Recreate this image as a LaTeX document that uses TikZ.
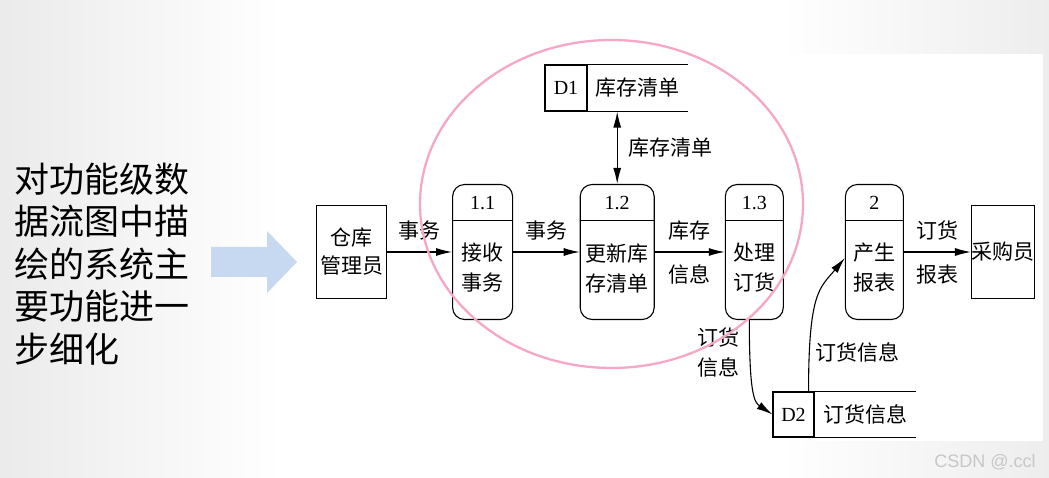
\documentclass[tikz,border=0pt]{standalone}
\usepackage{fontspec}
\setmainfont{Liberation Serif}
\newfontfamily\cjk{Noto Sans CJK SC}
\newfontfamily\wmfont{Liberation Sans}
\usetikzlibrary{arrows.meta, positioning}

\definecolor{ringpink}{RGB}{246,166,198}
\definecolor{slideblue}{RGB}{198,217,241}

\begin{document}
\begin{tikzpicture}[x=1pt, y=1pt,
  font=\fontsize{20}{24}\selectfont,
  % Process = rounded box, number bar on top
  process/.style={rectangle, draw=black, line width=1.1pt, rounded corners=12pt, minimum height=135pt, inner sep=0pt},
  procnum/.style={inner sep=0pt, font=\fontsize{20}{24}\selectfont},
  proctext/.style={inner sep=0pt, align=center, font=\cjk\fontsize{21}{30}\selectfont},
  % External entity = plain rectangle
  entity/.style={rectangle, draw=black, line width=1.1pt, minimum height=93pt, inner sep=0pt, align=center, font=\cjk\fontsize{21}{28}\selectfont},
  % Data store = id cell + open-ended name cell
  storeid/.style={rectangle, draw=black, line width=1.1pt, minimum height=46pt, inner sep=0pt, font=\fontsize{20}{24}\selectfont},
  storename/.style={rectangle, minimum height=46pt, inner sep=0pt, font=\cjk\fontsize{21}{24}\selectfont},
  lbl/.style={inner sep=0pt, align=center, font=\cjk\fontsize{21}{30}\selectfont},
  arrow/.style={line width=1.1pt, -{Latex[length=16pt, width=8pt]}},
  dblarrow/.style={line width=1.1pt, {Latex[length=16pt, width=8pt]}-{Latex[length=16pt, width=8pt]}},
  divider/.style={line width=0.9pt}
]

% ---- Slide background ----
\fill[white] (0,0) rectangle (1049,478);
\shade[left color=black!8, right color=white] (0,0) rectangle (280,478);
\shade[left color=white, right color=black!7] (780,0) rectangle (1049,478);
\fill[white] (305,37) rectangle (1043,424);
\useasboundingbox (0,0) rectangle (1049,478);

% ---- Slide text and big arrow ----
\node[anchor=west, align=left, inner sep=0pt, font=\cjk\fontsize{35}{42.5}\selectfont] (intro) at (14,214)
  {对功能级数\\据流图中描\\绘的系统主\\要功能进一\\步细化};
\fill[slideblue] (211,201) -- (267,201) -- (267,185) -- (297,216) -- (267,247) -- (267,231) -- (211,231) -- cycle;

% ---- External entities ----
\node[entity, minimum width=70pt] (mgr) at (351.5,226) {仓库\\管理员};

% ---- Processes ----
\node[process, minimum width=60pt, right=65pt of mgr] (p11) {};
\node[process, minimum width=74pt, right=66.5pt of p11] (p12) {};
\node[process, minimum width=58pt, right=70pt of p12] (p13) {};
\node[process, minimum width=58pt, right=61pt of p13] (p2) {};
\node[entity, minimum width=61pt, right=67pt of p2] (buyer) {采购员};

\draw[divider] ([yshift=-37pt]p11.north west) -- ([yshift=-37pt]p11.north east);
\draw[divider] ([yshift=-37pt]p12.north west) -- ([yshift=-37pt]p12.north east);
\draw[divider] ([yshift=-37pt]p13.north west) -- ([yshift=-37pt]p13.north east);
\draw[divider] ([yshift=-37pt]p2.north west) -- ([yshift=-37pt]p2.north east);

\node[procnum] (p11num) at ([yshift=-19pt]p11.north) {1.1};
\node[procnum] (p12num) at ([yshift=-19pt]p12.north) {1.2};
\node[procnum] (p13num) at ([yshift=-19pt]p13.north) {1.3};
\node[procnum] (p2num) at ([yshift=-19pt]p2.north) {2};

\node[proctext] (p11txt) at ([yshift=-16pt]p11.center) {接收\\事务};
\node[proctext] (p12txt) at ([yshift=-16pt]p12.center) {更新库\\存清单};
\node[proctext] (p13txt) at ([yshift=-16pt]p13.center) {处理\\订货};
\node[proctext] (p2txt) at ([yshift=-16pt]p2.center) {产生\\报表};

% ---- Data stores ----
\node[storeid, minimum width=42pt] (d1id) at (566,390) {D1};
\node[storename, minimum width=100pt, right=0pt of d1id] (d1) {库存清单};
\draw[line width=1.1pt] (d1.north west) -- (d1.north east) (d1.south west) -- (d1.south east);

\node[storeid, minimum width=41pt, minimum height=45pt] (d2id) at (793.5,63.5) {D2};
\node[storename, minimum width=101pt, minimum height=45pt, right=0pt of d2id] (d2) {订货信息};
\draw[line width=1.1pt] (d2.north west) -- (d2.north east) (d2.south west) -- (d2.south east);

% ---- Flows ----
\draw[arrow] (mgr) -- (p11) node[midway, above=11pt, lbl] {事务};
\draw[arrow] (p11) -- (p12) node[midway, above=11pt, lbl] {事务};
\draw[arrow] (p12) -- (p13) node[midway, above=11pt, lbl] {库存} node[midway, below=12pt, lbl] {信息};
\draw[arrow] (p2) -- (buyer) node[midway, above=11pt, lbl] {订货} node[midway, below=12pt, lbl] {报表};
\draw[dblarrow] (p12.north) -- (p12.north |- d1id.south) node[midway, right=11pt, lbl] {库存清单};

\draw[arrow] ([xshift=-5pt]p13.south) .. controls +(0,-75) and +(-18,12) .. (d2id.west)
  node[pos=0.17, left=10pt, lbl] {订货\\信息};
\draw[arrow] ([xshift=-6pt]d2id.north east) .. controls +(0,100) and +(-25,-30) .. ([yshift=-6pt]p2.west)
  node[pos=0.15, right=6pt, lbl] {订货信息};

% ---- Highlight ring ----
\draw[ringpink, line width=2.3pt] (611.5,274) ellipse [x radius=191.5, y radius=164];

% ---- Watermark ----
\node[text=black!22, inner sep=0pt, font=\wmfont\fontsize{18}{20}\selectfont] (mark) at (985,16) {CSDN @.ccl};

\end{tikzpicture}
\end{document}
